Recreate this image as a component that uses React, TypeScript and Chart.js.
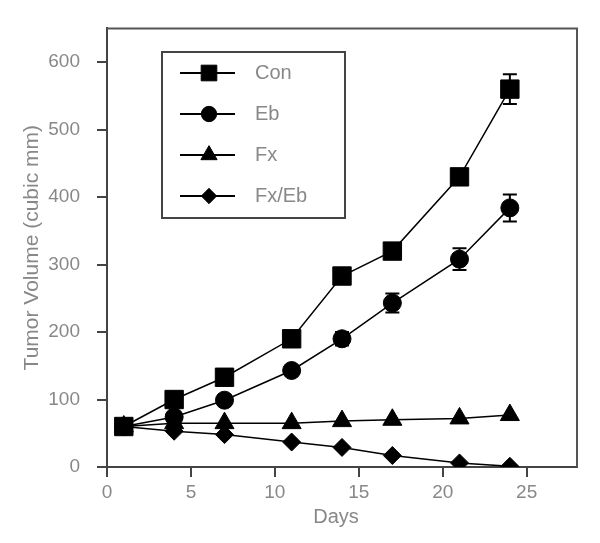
import React, { useEffect, useRef } from 'react';
import { Chart, registerables } from 'chart.js';
import { drawPoint } from 'chart.js/helpers';

Chart.register(...registerables);

const days = [1, 4, 7, 11, 14, 17, 21, 24];
const conValues = [60, 100, 133, 190, 283, 320, 430, 560];
const conErrors = [0, 0, 0, 0, 0, 0, 10, 22];
const ebValues = [60, 74, 99, 143, 190, 243, 308, 384];
const ebErrors = [0, 0, 0, 0, 10, 14, 16, 20];
const fxValues = [60, 65, 65, 65, 68, 70, 72, 77];
const fxEbValues = [60, 53, 48, 37, 29, 17, 6, 1];

const xTicks = [0, 5, 10, 15, 20, 25];
const yTicks = [0, 100, 200, 300, 400, 500, 600];

const seriesLabels = ['Con', 'Eb', 'Fx', 'Fx/Eb'];
const xTitle = 'Days';
const yTitle = 'Tumor Volume (cubic mm)';

const FONT = "'Liberation Sans', Arial, sans-serif";
const TEXT = '#888';
const AXIS = '#444';

const errorBarsPlugin = {
  id: 'errorBars',
  beforeDatasetsDraw(chart: any) {
    const { ctx } = chart;
    const xs = chart.scales.x;
    const ys = chart.scales.y;
    chart.data.datasets.forEach((ds: any) => {
      const errs = ds.errors;
      if (!errs) return;
      ds.data.forEach((pt: any, j: number) => {
        const e = errs[j];
        if (!e) return;
        const px = xs.getPixelForValue(pt.x);
        const top = ys.getPixelForValue(pt.y + e);
        const bot = ys.getPixelForValue(pt.y - e);
        ctx.save();
        ctx.strokeStyle = '#000';
        ctx.lineWidth = 2;
        ctx.beginPath();
        ctx.moveTo(px, top);
        ctx.lineTo(px, bot);
        ctx.moveTo(px - 7, top);
        ctx.lineTo(px + 7, top);
        ctx.moveTo(px - 7, bot);
        ctx.lineTo(px + 7, bot);
        ctx.stroke();
        ctx.restore();
      });
    });
  },
};

const framePlugin = {
  id: 'frame',
  afterDraw(chart: any) {
    const { ctx, chartArea } = chart;
    ctx.save();
    ctx.strokeStyle = '#555';
    ctx.lineWidth = 2;
    ctx.beginPath();
    ctx.moveTo(chartArea.left, chartArea.top);
    ctx.lineTo(chartArea.right, chartArea.top);
    ctx.lineTo(chartArea.right, chartArea.bottom);
    ctx.stroke();
    // x-axis title
    ctx.fillStyle = TEXT;
    ctx.font = `20px ${FONT}`;
    ctx.textAlign = 'center';
    ctx.textBaseline = 'middle';
    ctx.fillText(xTitle, chartArea.left + 229, chartArea.bottom + 50);
    ctx.restore();
  },
};

const boxLegendPlugin = {
  id: 'boxLegend',
  afterDatasetsDraw(chart: any) {
    const { ctx } = chart;
    const left = 162, top = 52, right = 345, bottom = 218;
    ctx.save();
    ctx.fillStyle = '#fff';
    ctx.fillRect(left, top, right - left, bottom - top);
    ctx.strokeStyle = '#444';
    ctx.lineWidth = 2;
    ctx.strokeRect(left, top, right - left, bottom - top);
    chart.data.datasets.forEach((ds: any, i: number) => {
      const y = top + 21 + i * 41;
      ctx.strokeStyle = '#000';
      ctx.lineWidth = 2;
      ctx.beginPath();
      ctx.moveTo(left + 18, y);
      ctx.lineTo(left + 73, y);
      ctx.stroke();
      ctx.fillStyle = '#000';
      ctx.strokeStyle = '#000';
      ctx.lineWidth = 1;
      drawPoint(ctx, { pointStyle: ds.pointStyle, radius: ds.pointRadius * 0.85, rotation: 0, borderWidth: 1 } as any, left + 47, y);
      ctx.fillStyle = TEXT;
      ctx.font = `20px ${FONT}`;
      ctx.textBaseline = 'middle';
      ctx.textAlign = 'left';
      ctx.fillText(ds.label, left + 93, y);
    });
    ctx.restore();
  },
};

function makeDataset(label: string, values: number[], style: string, radius: number, errors?: number[]) {
  return {
    label,
    data: days.map((d, i) => ({ x: d, y: values[i] })),
    errors,
    borderColor: '#000',
    backgroundColor: '#000',
    borderWidth: 1.5,
    pointStyle: style,
    pointRadius: radius,
    pointBackgroundColor: '#000',
    pointBorderColor: '#000',
    pointBorderWidth: 1,
    tension: 0,
    showLine: true,
  };
}

export default function App() {
  const ref = useRef<HTMLCanvasElement>(null);
  useEffect(() => {
    if (!ref.current) return;
    const chart = new Chart(ref.current, {
      type: 'scatter',
      data: {
        datasets: [
          makeDataset(seriesLabels[0], conValues, 'rect', 13, conErrors),
          makeDataset(seriesLabels[1], ebValues, 'circle', 9, ebErrors),
          makeDataset(seriesLabels[2], fxValues, 'triangle', 11),
          makeDataset(seriesLabels[3], fxEbValues, 'rectRot', 9),
        ] as any,
      },
      options: {
        animation: false,
        responsive: false,
        layout: { padding: { top: 20, right: 23, left: 0, bottom: 0 } },
        plugins: { legend: { display: false }, tooltip: { enabled: false } },
        scales: {
          x: {
            type: 'linear',
            min: 0,
            max: 28,
            afterBuildTicks: (s: any) => { s.ticks = xTicks.map((v) => ({ value: v })); },
            afterFit: (s: any) => { s.height = 76; },
            grid: { drawOnChartArea: false, drawTicks: true, tickLength: 10, color: AXIS, lineWidth: 2 },
            border: { color: AXIS, width: 2 },
            ticks: { color: TEXT, font: { size: 19, family: FONT }, padding: 4, maxRotation: 0 },
            title: { display: false },
          },
          y: {
            type: 'linear',
            min: 0,
            max: 650,
            afterBuildTicks: (s: any) => { s.ticks = yTicks.map((v) => ({ value: v })); },
            afterFit: (s: any) => { s.width = 107; },
            grid: { drawOnChartArea: false, drawTicks: true, tickLength: 10, color: AXIS, lineWidth: 2 },
            border: { color: AXIS, width: 2 },
            ticks: { color: TEXT, font: { size: 19, family: FONT }, padding: 17 },
            title: { display: true, text: yTitle, color: TEXT, font: { size: 21, family: FONT }, padding: { top: 20, bottom: 0 } },
          },
        },
      } as any,
      plugins: [errorBarsPlugin, framePlugin, boxLegendPlugin],
    });
    return () => chart.destroy();
  }, []);
  return (
    <div style={{ position: 'fixed', left: 0, top: 0, width: 600, height: 543, background: '#fff' }}>
      <canvas ref={ref} width={600} height={543} />
    </div>
  );
}
